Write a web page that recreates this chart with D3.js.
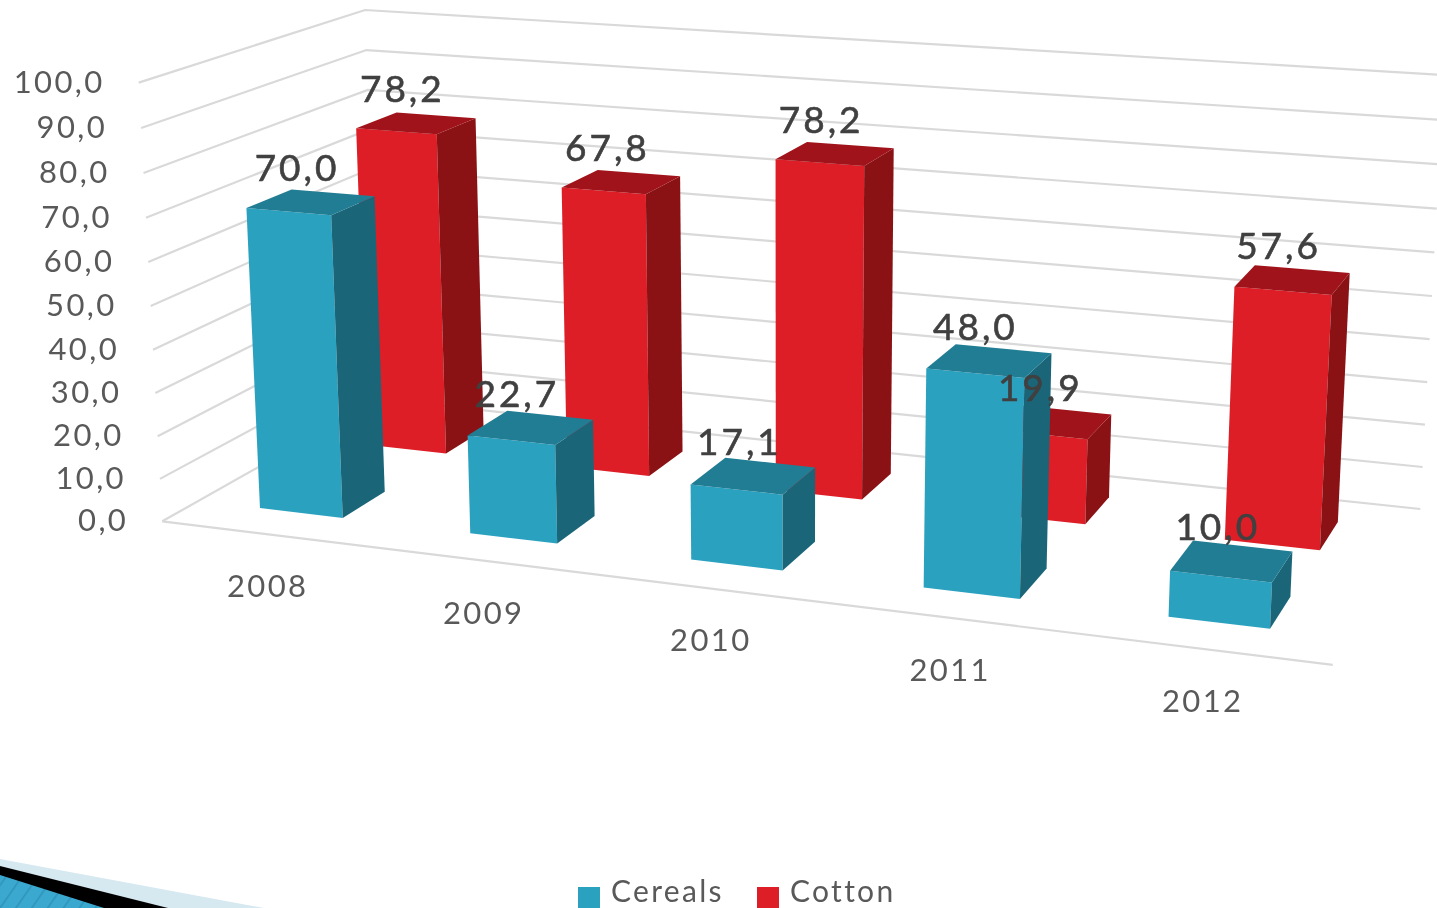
<!DOCTYPE html>
<html><head><meta charset="utf-8"><style>html,body{margin:0;background:#fff;overflow:hidden}svg{display:block;filter:blur(.45px)}text{font-family:Lato,"Open Sans",sans-serif}</style>
<script src="https://cdn.jsdelivr.net/npm/d3@7"></script></head><body><svg id="c" width="1437" height="908"></svg>
<script>
const categories=['2008','2009','2010','2011','2012'];
const cereals=[70.0,22.7,17.1,48.0,10.0];
const cotton=[78.2,67.8,78.2,19.9,57.6];
const seriesNames=['Cereals','Cotton'];
const valueTicks=[0,10,20,30,40,50,60,70,80,90,100];
const fmt=v=>v.toFixed(1).replace('.',',');

// Camera of the 3-D chart: a perspective projection of (category, value, depth) to the page.
const cam=[201.498,-28.59429,266.9758,162.2315,12.43422,-441.7306,-68.62899,521.3247,-0.02446533,-0.03641681,0.1338688];
const yScale=d3.scaleLinear().domain([0,100]).range([0,1]);
const xBand=d3.scaleBand().domain(categories).range([0,5]);
const barLeft=0.3006,barWidth=0.3994;
const depth={Cereals:[0.1519,0.3475],Cotton:[0.6519,0.8506]};
const look={Cereals:{front:'#2ba1c0',side:'#1b6579',top:'#217d93'},Cotton:{front:'#dd1e27',side:'#8a1215',top:'#a1131a'}};
function project(X,v,Z){const Y=yScale(v),h=cam,w=h[8]*X+h[9]*Y+h[10]*Z+1;
  return [(h[0]*X+h[1]*Y+h[2]*Z+h[3])/w,(h[4]*X+h[5]*Y+h[6]*Z+h[7])/w];}
const path=pts=>pts.map(p=>project(...p).join(',')).join(' ');

const svg=d3.select('#c');
const grid=svg.append('g').attr('fill','none').attr('stroke','#d9d9d9').attr('stroke-width',2.2);
grid.selectAll('polyline').data(valueTicks).join('polyline')
  .attr('points',t=>path([[0,t,0],[0,t,1],[5,t,1]]));
grid.append('polyline').attr('points',path([[0,0,0],[5,0,0]]));

svg.append('g').selectAll('text').data(valueTicks).join('text')
  .attr('x',t=>project(0,t,0)[0]-34).attr('y',t=>project(0,t,0)[1]+10)
  .attr('text-anchor','end').attr('font-size',31).attr('letter-spacing',2.4).attr('fill','#595959').text(fmt);
svg.append('g').selectAll('text').data(categories).join('text')
  .attr('x',c=>project(xBand(c)+xBand.bandwidth()/2,0,0)[0]+1.5).attr('y',c=>project(xBand(c)+xBand.bandwidth()/2,0,0)[1]+63)
  .attr('text-anchor','middle').attr('font-size',31).attr('letter-spacing',2.4).attr('fill','#595959').text(c=>c);

const series=[{name:'Cotton',values:cotton},{name:'Cereals',values:cereals}];
series.forEach(s=>{
  const [zf,zb]=depth[s.name],col=look[s.name];
  const bars=svg.append('g').selectAll('g').data(s.values).join('g');
  bars.each(function(v,i){
    const xl=xBand(categories[i])+barLeft,xr=xl+barWidth,b=d3.select(this);
    b.append('polygon').attr('fill',col.front).attr('points',path([[xl,v,zf],[xr,v,zf],[xr,0,zf],[xl,0,zf]]));
    b.append('polygon').attr('fill',col.side).attr('points',path([[xr,v,zf],[xr,v,zb],[xr,0,zb],[xr,0,zf]]));
    b.append('polygon').attr('fill',col.top).attr('points',path([[xl,v,zf],[xl,v,zb],[xr,v,zb],[xr,v,zf]]));
  });
});
series.forEach(s=>{
  const [zf,zb]=depth[s.name];
  svg.append('g').selectAll('text').data(s.values).join('text')
    .attr('x',(v,i)=>project(xBand(categories[i])+barLeft+barWidth/2,v,(zf+zb)/2)[0]-14)
    .attr('y',(v,i)=>project(xBand(categories[i])+barLeft+barWidth/2,v,(zf+zb)/2)[1]-21)
    .attr('text-anchor','middle').attr('font-size',37).attr('letter-spacing',3).attr('fill','#404040')
    .attr('stroke','#404040').attr('stroke-width',.6).text(fmt);
});

// Legend
const legend=svg.append('g');
const legendX=d3.scaleOrdinal().domain(seriesNames).range([578,757]);
seriesNames.forEach(n=>{
  legend.append('rect').attr('x',legendX(n)).attr('y',887).attr('width',22).attr('height',21).attr('fill',look[n].front);
  legend.append('text').attr('x',legendX(n)+33).attr('y',902).attr('font-size',30).attr('letter-spacing',2.3).attr('fill','#595959').text(n);
});

// Slide corner ornament
const defs=svg.append('defs');
const pat=defs.append('pattern').attr('id','hatch').attr('patternUnits','userSpaceOnUse').attr('width',13).attr('height',13).attr('patternTransform','rotate(35)');
pat.append('rect').attr('width',13).attr('height',13).attr('fill','#3ba8cf');
pat.append('rect').attr('width',1.5).attr('height',13).attr('fill','#2f93b8');
const orn=svg.append('g');
orn.append('polygon').attr('points','0,859 264,908 0,908').attr('fill','#d6e9f1');
orn.append('polygon').attr('points','0,866 168,908 0,908').attr('fill','#000');
orn.append('polygon').attr('points','0,875 104,908 0,908').attr('fill','url(#hatch)');
</script></body></html>
